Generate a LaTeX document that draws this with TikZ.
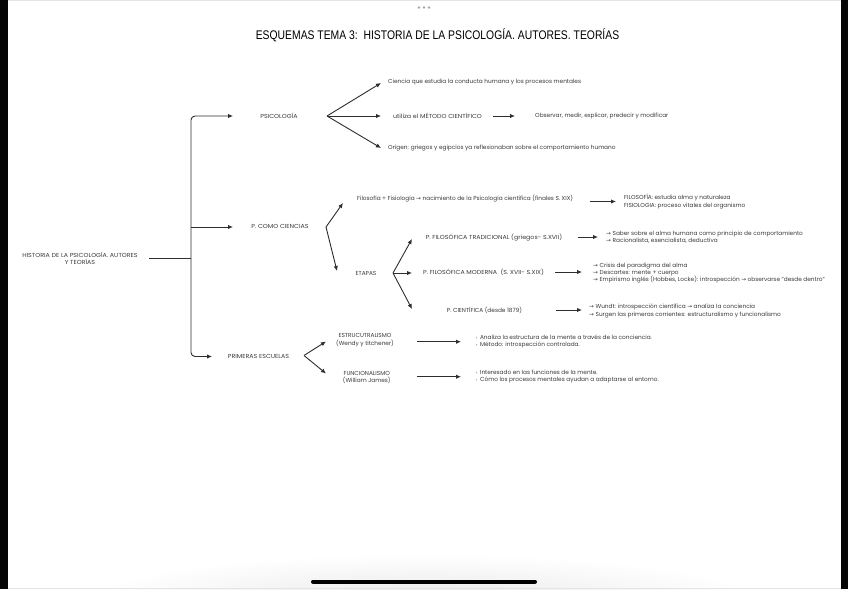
\documentclass[tikz,border=0pt]{standalone}
\usepackage{fontspec}
\setmainfont{Poppins}
\newfontfamily\titlefont[FakeStretch=0.83]{Liberation Sans}
\newfontfamily\capfont[FakeStretch=1.09]{Poppins}
\newfontfamily\symfont{DejaVu Sans}
\usetikzlibrary{arrows.meta,positioning,calc}
\definecolor{inkc}{HTML}{2E2E2E}
\definecolor{txtc}{HTML}{3A3A3A}
\definecolor{dotc}{HTML}{A8A8A8}
\definecolor{edgec}{HTML}{E4E4E4}
\definecolor{framec}{HTML}{050505}
\tikzset{
  >={Latex[length=5pt,width=4.4pt]},
  lbl/.style={font=\fontsize{5.8}{7.4}\selectfont,text=txtc,inner sep=0pt},
  lbll/.style={lbl,anchor=west,align=left},
  lblc/.style={lbl,align=center},
  capl/.style={lblc,font=\capfont\fontsize{5.8}{7.4}\selectfont},
  ptr/.style={->,line width=0.9pt,draw=inkc},
  brk/.style={line width=0.9pt,draw=inkc},
}
\newcommand{\rarr}{{\symfont →}}
\newcommand{\bul}{{\fontsize{3.6}{4}\selectfont •}\hspace{2.4pt}}

\begin{document}
\begin{tikzpicture}[x=1pt,y=-1pt]
  \useasboundingbox (0,0) rectangle (848,589);
  % marco de la pantalla
  \path[fill=white] (0,0) rectangle (848,589);
  \shade[inner color=black!9,outer color=white] (424,602) ellipse (340 and 48);
  \draw[framec,line width=7.5pt] (3.75,0) -- (3.75,589);
  \draw[framec,line width=7.5pt] (844.25,0) -- (844.25,589);
  \draw[edgec,line width=1pt] (7.5,0.5) -- (840.5,0.5);
  \draw[edgec,line width=1pt] (7.5,588.5) -- (840.5,588.5);
  \foreach \dx in {-5,0,5} \fill[dotc] (424+\dx,7.5) circle (1.3pt);
  \draw[black,line width=4pt,line cap=round] (313,581.5) -- (535,581.5);
  % titulo
  \node[font=\titlefont\fontsize{12.5}{14}\selectfont,text=black,inner sep=0pt] (title) at (437.5,35)
    {ESQUEMAS TEMA 3:\ \ HISTORIA DE LA PSICOLOGÍA. AUTORES. TEORÍAS};
  % raiz y llave
  \node[capl] (root) at (80,258.5) {HISTORIA DE LA PSICOLOGÍA. AUTORES\\Y TEORÍAS};
  \coordinate (rootout) at (149,258);
  \coordinate (hub) at (191,258);
  \coordinate (b1) at (233,116);
  \coordinate (b2) at (233,227);
  \coordinate (b3) at (212,356.5);
  \draw[brk] (rootout) -- (hub);
  \draw[ptr,rounded corners=4pt] (hub) -- (191,116) -- (b1);
  \draw[ptr,rounded corners=4pt] (hub) -- (191,356.5) -- (b3);
  \draw[ptr] (191,227) -- (b2);
  % psicologia
  \node[capl] (psi) at (279,116) {PSICOLOGÍA};
  \node[lbll] (def) at (388,82.5) {Ciencia que estudia la conducta humana y los procesos mentales};
  \node[capl] (met) at (437.5,116) {utiliza el MÉTODO CIENTÍFICO};
  \node[lbll] (obs) at (535,116) {Observar, medir, explicar, predecir y modificar};
  \node[lbll] (ori) at (388,148.5) {Origen: griegos y egipcios ya reflexionaban sobre el comportamiento humano};
  \coordinate (psif) at (327,116);
  \coordinate (psi1) at (381,83);
  \coordinate (psi2) at (381,116);
  \coordinate (psi3) at (381,148);
  \foreach \t in {psi1,psi2,psi3} \draw[ptr] (psif) -- (\t);
  \draw[ptr] (493,116) -- (515,116);
  % p. como ciencias
  \node[capl] (cien) at (280,226.7) {P. COMO CIENCIAS};
  \node[lbll] (filo) at (357,198.5) {Filosofía + Fisiología \rarr{} nacimiento de la Psicología científica (finales S. XIX)};
  \node[lbll] (filod) at (624,201.5) {FILOSOFÍA: estudia alma y naturaleza\\FISIOLOGIA: proceso vitales del organismo};
  \node[lblc] (etapas) at (366,273) {ETAPAS};
  \coordinate (cienf) at (326,227);
  \coordinate (cien1) at (343,203);
  \coordinate (cien2) at (337,271);
  \foreach \t in {cien1,cien2} \draw[ptr] (cienf) -- (\t);
  \draw[ptr] (590,201.5) -- (616,201.5);
  % etapas
  \node[capl] (trad) at (494,237.3) {P. FILOSÓFICA TRADICIONAL (griegos- S.XVII)};
  \node[capl] (mod) at (483.5,272.3) {P. FILOSÓFICA MODERNA\ \ (S. XVII- S.XIX)};
  \node[lblc] (cie) at (484.5,310) {P. CIENTÍFICA (desde 1879)};
  \node[lbll] (tradd) at (606,237) {\rarr{} Saber sobre el alma humana como principio de comportamiento\\\rarr{} Racionalista, esencialista, deductiva};
  \node[lbll] (modd) at (593,273) {\rarr{} Crisis del paradigma del alma\\\rarr{} Descartes: mente + cuerpo\\\rarr{} Empirismo inglés (Hobbes, Locke): introspección \rarr{} observarse "desde dentro"};
  \node[lbll] (cied) at (589,311) {\rarr{} Wundt: introspección científica \rarr{} analiza la conciencia\\\rarr{} Surgen las primeras corrientes: estructuralismo y funcionalismo};
  \coordinate (etf) at (393,273);
  \coordinate (et1) at (412,239);
  \coordinate (et2) at (412,273);
  \coordinate (et3) at (412,309);
  \foreach \t in {et1,et2,et3} \draw[ptr] (etf) -- (\t);
  \draw[ptr] (578,237) -- (598,237);
  \draw[ptr] (555,272) -- (582,272);
  \draw[ptr] (556,310) -- (582,310);
  % primeras escuelas
  \node[capl] (prim) at (258.5,356) {PRIMERAS ESCUELAS};
  \node[lblc] (estr) at (365,340.3) {ESTRUCUTRALISMO\\(Wendy y titchener)};
  \node[lblc] (func) at (366.7,377.2) {FUNCIONALISMO\\(William James)};
  \node[lbll] (estrd) at (476,341.7) {\bul Analiza la estructura de la mente a través de la conciencia.\\\bul Método: introspección controlada.};
  \node[lbll] (funcd) at (476,376.7) {\bul Interesado en las funciones de la mente.\\\bul Cómo los procesos mentales ayudan a adaptarse al entorno.};
  \coordinate (primf) at (304,355.5);
  \coordinate (prim1) at (326,341.5);
  \coordinate (prim2) at (326,373.5);
  \foreach \t in {prim1,prim2} \draw[ptr] (primf) -- (\t);
  \draw[ptr] (417,341.7) -- (461,341.7);
  \draw[ptr] (417,376.7) -- (461,376.7);
\end{tikzpicture}
\end{document}
